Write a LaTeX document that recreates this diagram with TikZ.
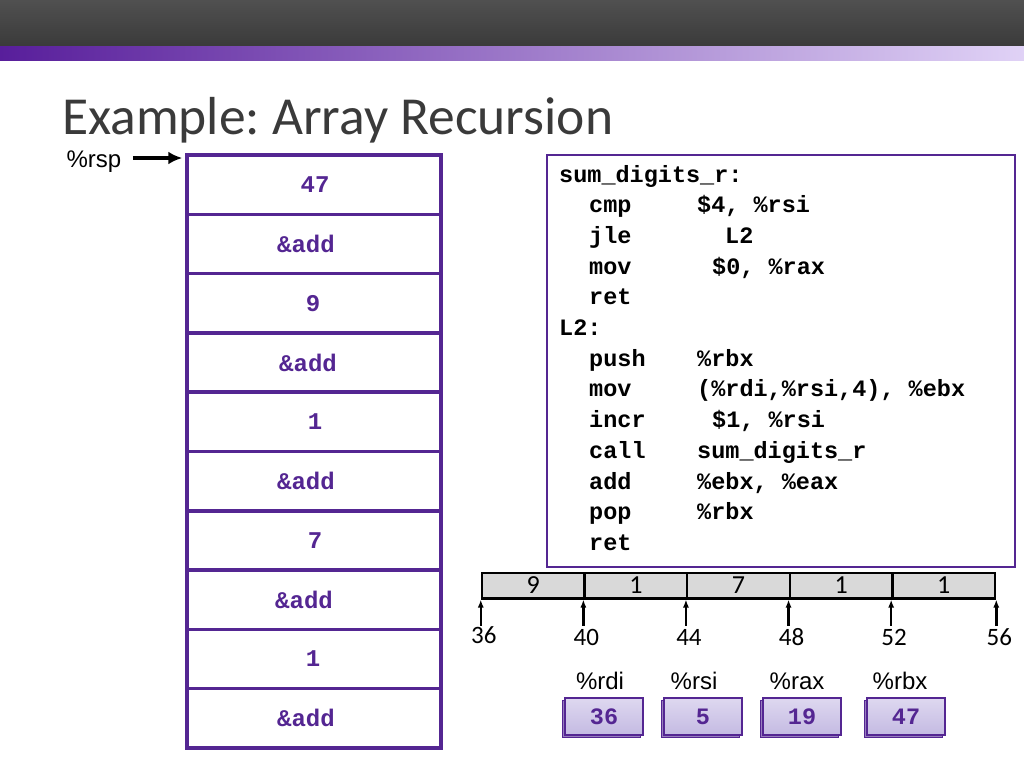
\documentclass[tikz,border=0pt]{standalone}
\usepackage{fontspec}
\setmainfont{Carlito}
\newfontfamily\codefont{Liberation Mono}
\newfontfamily\arialfont{Liberation Sans}
\usepackage{xcolor}
\usetikzlibrary{positioning, arrows.meta, calc}
\frenchspacing

\definecolor{slidepurple}{RGB}{84,38,146}
\definecolor{titlegray}{RGB}{58,58,58}
\definecolor{bartop}{RGB}{80,80,80}
\definecolor{barbottom}{RGB}{58,58,58}
\definecolor{stripleft}{RGB}{88,30,155}
\definecolor{stripmid}{RGB}{184,140,226}
\definecolor{stripright}{RGB}{224,210,246}
\definecolor{memgray}{RGB}{217,217,217}
\definecolor{regtop}{RGB}{222,216,240}
\definecolor{regbottom}{RGB}{196,186,226}

\begin{document}
\begin{tikzpicture}[x=1pt, y=-1pt,
        stackcell/.style={draw=slidepurple, line width=3.5pt, fill=white,
          minimum width=254pt, minimum height=59.3pt, inner sep=0pt},
        stacktext/.style={text=slidepurple, inner sep=0pt,
          font=\codefont\bfseries\fontsize{24}{24}\selectfont},
        asm/.style={anchor=base west, inner sep=0pt,
          font=\codefont\bfseries\fontsize{23.5}{23.5}\selectfont},
        memcell/.style={draw=black, line width=2.5pt, fill=memgray,
          minimum width=102.6pt, minimum height=25.5pt, inner sep=0pt,
          font=\fontsize{26}{26}\selectfont},
        addr/.style={inner sep=0pt, text height=16pt, text depth=0pt,
          font=\fontsize{25}{25}\selectfont},
        memarrow/.style={-{Latex[length=8pt,width=6pt]}, line width=2.5pt},
        reglabel/.style={font=\arialfont\fontsize{24}{24}\selectfont},
        regbox/.style={draw=slidepurple, line width=1.2pt,
          top color=regtop, bottom color=regbottom,
          minimum width=78pt, minimum height=37pt, inner sep=0pt,
          text=slidepurple, font=\codefont\bfseries\fontsize{23.5}{23.5}\selectfont,
          preaction={draw=slidepurple, line width=1.2pt, fill=slidepurple!60,
            transform canvas={shift={(-2.5pt,-2.5pt)}}}}
      ]
      \useasboundingbox (0,0) rectangle (1024,768);

      % slide header
      \shade[top color=bartop, bottom color=barbottom] (0,0) rectangle (1024,47);
      \shade[left color=stripleft, middle color=stripmid, right color=stripright]
        (0,47) rectangle (1024,60);
      \node[anchor=base west, inner sep=0pt, text=titlegray,
        font=\fontsize{53.5}{53.5}\selectfont] (title) at (62,134) {Example: Array Recursion};

      % the stack
      \foreach \val/\dx [count=\i] in {47/1,\&add/-8,9/-1,\&add/-6,1/1,\&add/-8,7/1,\&add/-10,1/-1,\&add/-8}
      {
        \node[stackcell] (s\i) at (314,{125.35+59.3*\i}) {};
        \node[stacktext, xshift=\dx pt] (v\i) at (s\i) {\val};
      }

      \node[reglabel, anchor=base] (rsp) at (94,167) {\%rsp};
      \draw[-{Latex[length=14pt,width=13pt]}, line width=4pt, shorten <=8pt, shorten >=3pt]
        (rsp.east |- 0,158) -- (s1.north west |- 0,158);

      % code
      \node[draw=slidepurple, line width=2.5pt, minimum width=468pt,
        minimum height=412pt] (codebox) at (781,361) {};
      \node[asm] (lab1) at (559,182) {sum\_digits\_r:};
      \node[asm] (lab2) at (559,{182+30.7*5}) {L2:};
      \foreach \mn/\opd/\ox/\ln in {
          {cmp/{\$4, \%rsi}/697/1},
          {jle/L2/725/2},
          {mov/{\$0, \%rax}/712/3},
          {ret/{}/697/4},
          {push/\%rbx/697/6},
          {mov/{(\%rdi,\%rsi,4), \%ebx}/697/7},
          {incr/{\$1, \%rsi}/712/8},
          {call/sum\_digits\_r/697/9},
          {add/{\%ebx, \%eax}/697/10},
          {pop/\%rbx/697/11},
          {ret/{}/697/12}}
      {
        \node[asm] (mn\ln) at (589,{182+30.7*\ln}) {\mn};
        \node[asm] (op\ln) at (\ox,{182+30.7*\ln}) {\opd};
      }

      % the array in memory
      \foreach \v [count=\i] in {9,1,7,1,1}
        \node[memcell] (c\i) at ({430.7+102.6*\i},585.5) {\v};
      \foreach \i in {1,...,5}
        \coordinate (t\i) at ($(c\i.south west)+(0,26)$);
      \coordinate (t6) at ($(c5.south east)+(0,26)$);
      \foreach \i in {1,...,5}
        \draw[memarrow] (t\i) -- (c\i.south west);
      \draw[memarrow] (t6) -- (c5.south east);
      \foreach \a/\dy [count=\i] in {36/2,40/4,44/4,48/4,52/4,56/4}
        \node[addr, below=\dy pt of t\i, xshift=3pt] (a\i) {\a};

      % registers
      \foreach \reg/\val/\rx/\lx in {rdi/36/604/600, rsi/5/703/694, rax/19/802/797, rbx/47/906/900}
      {
        \node[regbox] (\reg) at (\rx,716.5) {\val};
        \node[reglabel, anchor=base] (l\reg) at (\lx,689) {\%\reg};
      }
      \end{tikzpicture}
\end{document}
